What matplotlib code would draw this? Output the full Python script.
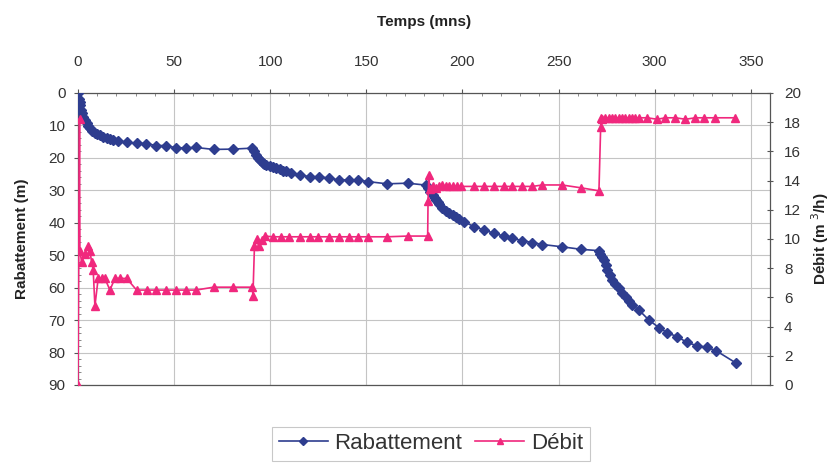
import matplotlib
matplotlib.use("Agg")
import matplotlib.pyplot as plt
from matplotlib.ticker import MultipleLocator
from matplotlib.lines import Line2D

plt.rcParams['font.family'] = ['Liberation Sans', 'DejaVu Sans']

# Rabattement (drawdown, m) vs time (min)
t_rab = [0, 0.5, 0.8, 1.0, 1.4, 2.0, 2.8, 3.6, 4.5, 5.3, 6.2, 7.5, 8.8, 10.0, 11.4, 13.0, 14.9,
         16.5, 18.3, 21.0, 25.3, 30.5, 35.3, 40.8, 45.7, 50.9, 56.0, 61.3, 70.6, 80.6, 90.7,
         91.8, 92.8, 93.6, 94.5, 96.0, 97.0, 98.0, 99.7, 101.4, 103.0, 104.9, 106.5, 108.4, 111.0,
         115.3, 120.8, 125.6, 130.8, 136.0, 141.2, 145.5, 150.7, 160.8, 171.5, 181.0,
         182.0, 183.0, 184.5, 185.5, 186.2, 187.2, 188.0, 189.5, 191.4, 193.0, 194.9, 196.6, 198.3,
         200.9, 206.0, 211.3, 216.5, 221.7, 226.0, 231.2, 236.4, 241.6, 251.7, 261.9, 271.0,
         271.8, 272.5, 273.6, 274.5, 275.3, 276.5, 277.9, 279.5, 281.4, 283.0, 284.9, 286.5, 288.3,
         291.8, 297.0, 302.2, 306.5, 311.7, 316.9, 322.0, 327.3, 332.1, 342.5]
rabattement = [0, 1.8, 2.8, 3.6, 5.2, 6.3, 7.3, 8.4, 9.3, 10.1, 10.9, 11.7, 12.4, 12.6, 12.9, 13.5, 14.0,
               14.3, 14.5, 14.8, 15.2, 15.5, 15.6, 16.2, 16.2, 16.9, 16.9, 16.8, 17.4, 17.3, 17.0,
               18.0, 19.1, 19.9, 20.7, 21.5, 21.9, 22.2, 22.6, 22.9, 23.2, 23.5, 23.9, 24.2, 24.6,
               25.3, 25.8, 25.8, 26.3, 26.8, 26.8, 26.8, 27.3, 28.0, 27.8, 28.4,
               29.4, 30.4, 31.4, 32.3, 33.0, 33.6, 34.2, 35.3, 36.4, 37.0, 37.6, 38.3, 38.9,
               39.7, 41.2, 42.2, 43.3, 44.1, 44.8, 45.5, 46.1, 46.7, 47.4, 48.2, 48.6,
               49.5, 50.5, 51.5, 53.0, 54.6, 56.0, 57.6, 59.0, 60.2, 61.5, 62.8, 64.2, 65.4,
               66.9, 70.0, 72.3, 73.9, 75.1, 76.9, 77.9, 78.4, 79.5, 83.3]

# Débit (flow rate, m3/h) vs time (min)
t_deb = [0, 0.8, 1.0, 1.9, 3.6, 5.3, 6.2, 7.1, 7.9, 8.8, 10.5, 12.3, 14.0, 16.6, 19.2, 21.8, 25.3,
         30.5, 35.7, 40.8, 45.7, 50.9, 56.0, 61.3, 70.6, 80.6, 90.7, 91.0, 91.8, 93.2, 94.0, 95.5,
         97.2, 101.4, 105.8, 110.0, 115.3, 120.5, 124.8, 130.8, 136.0, 141.2, 145.5, 150.7, 160.8,
         171.5, 181.9, 182.1, 182.5, 183.0, 184.5, 186.0, 188.0, 189.5, 191.4, 193.0, 194.9, 197.0,
         199.2, 206.1, 211.3, 216.5, 221.7, 226.0, 231.2, 236.4, 241.6, 251.7, 261.9, 271.0,
         271.9, 272.3, 272.7, 274.4, 276.2, 277.9, 279.6, 281.3, 283.1, 284.8, 286.5, 288.3, 290.0,
         291.8, 296.1, 301.3, 305.6, 310.8, 316.0, 321.2, 325.5, 331.6, 342.0]
debit = [0, 18.2, 9.2, 8.4, 9.0, 9.5, 9.2, 8.4, 7.9, 5.4, 7.3, 7.3, 7.3, 6.5, 7.3, 7.3, 7.3,
         6.5, 6.5, 6.5, 6.5, 6.5, 6.5, 6.5, 6.7, 6.7, 6.7, 6.1, 9.5, 10.0, 9.5, 9.9,
         10.2, 10.15, 10.15, 10.15, 10.15, 10.15, 10.15, 10.15, 10.15, 10.15, 10.15, 10.15, 10.15,
         10.2, 10.2, 12.6, 14.4, 13.4, 13.6, 13.5, 13.6, 13.7, 13.6, 13.6, 13.6, 13.6,
         13.6, 13.6, 13.6, 13.6, 13.6, 13.6, 13.6, 13.6, 13.7, 13.7, 13.5, 13.3,
         17.7, 18.3, 18.2, 18.3, 18.3, 18.3, 18.3, 18.3, 18.3, 18.3, 18.3, 18.3, 18.3,
         18.3, 18.3, 18.2, 18.3, 18.3, 18.2, 18.3, 18.3, 18.3, 18.3]

x_ticks = [0, 50, 100, 150, 200, 250, 300, 350]
left_ticks = [0, 10, 20, 30, 40, 50, 60, 70, 80, 90]
right_ticks = [0, 2, 4, 6, 8, 10, 12, 14, 16, 18, 20]

blue = '#2E3D8F'
pink = '#F0287D'
txt = '#333333'

fig = plt.figure(figsize=(8.35, 4.71), dpi=100)
ax = fig.add_axes([0.0934, 0.1826, 0.8288, 0.62])
ax.set_xlim(0, 360)
ax.set_ylim(90, 0)
ax.xaxis.tick_top()
ax.xaxis.set_label_position('top')
ax.set_xticks(x_ticks)
ax.set_yticks(left_ticks)
ax.xaxis.set_minor_locator(MultipleLocator(10))
ax.yaxis.set_minor_locator(MultipleLocator(2))
ax.grid(True, which='major', color='#c4c4c4', lw=0.8)
ax.tick_params(axis='both', which='major', labelsize=11, colors='#555555', labelcolor=txt, length=3, direction='out')
ax.tick_params(axis='both', which='minor', length=2, colors='#777777', direction='in')
ax.tick_params(axis='x', which='major', pad=14)
ax.tick_params(axis='y', which='major', pad=6)
for s in ax.spines.values():
    s.set_color('#555555')
    s.set_linewidth(0.9)

ax.plot(t_rab, rabattement, color=blue, lw=1.2, marker='D', ms=5, mec=blue, mfc=blue, zorder=3)

ax2 = ax.twinx()
ax2.set_ylim(0, 20)
ax2.set_yticks(right_ticks)
ax2.tick_params(axis='y', labelsize=11, colors='#555555', labelcolor=txt, length=4, direction='inout', pad=8)
for s in ax2.spines.values():
    s.set_visible(False)
ax2.plot(t_deb, debit, color=pink, lw=1.2, marker='^', ms=5.5, mec=pink, mfc=pink, zorder=4)

ax.set_xlabel('Temps (mns)', fontsize=11, fontweight='bold', color='#222222', labelpad=21)
ax.set_ylabel('Rabattement (m)', fontsize=11, fontweight='bold', color='#222222', labelpad=14)
ax2.set_ylabel('Débit (m $^3$/h)', fontsize=11, fontweight='bold', color='#222222', labelpad=6)

handles = [Line2D([], [], color=blue, lw=1.2, marker='D', ms=4),
           Line2D([], [], color=pink, lw=1.2, marker='^', ms=4.5)]
leg = fig.legend(handles, ['Rabattement', 'Débit'], loc='center', bbox_to_anchor=(0.516, 0.058),
                 ncol=2, frameon=True, fancybox=False, handlelength=2.2,
                 handletextpad=0.3, columnspacing=0.6, borderpad=0.3,
                 prop={'size': 16})
leg.get_frame().set_edgecolor('#bbbbbb')
leg.get_frame().set_linewidth(0.8)
for t in leg.get_texts():
    t.set_color('#333333')

fig.savefig('out.png', dpi=100)
